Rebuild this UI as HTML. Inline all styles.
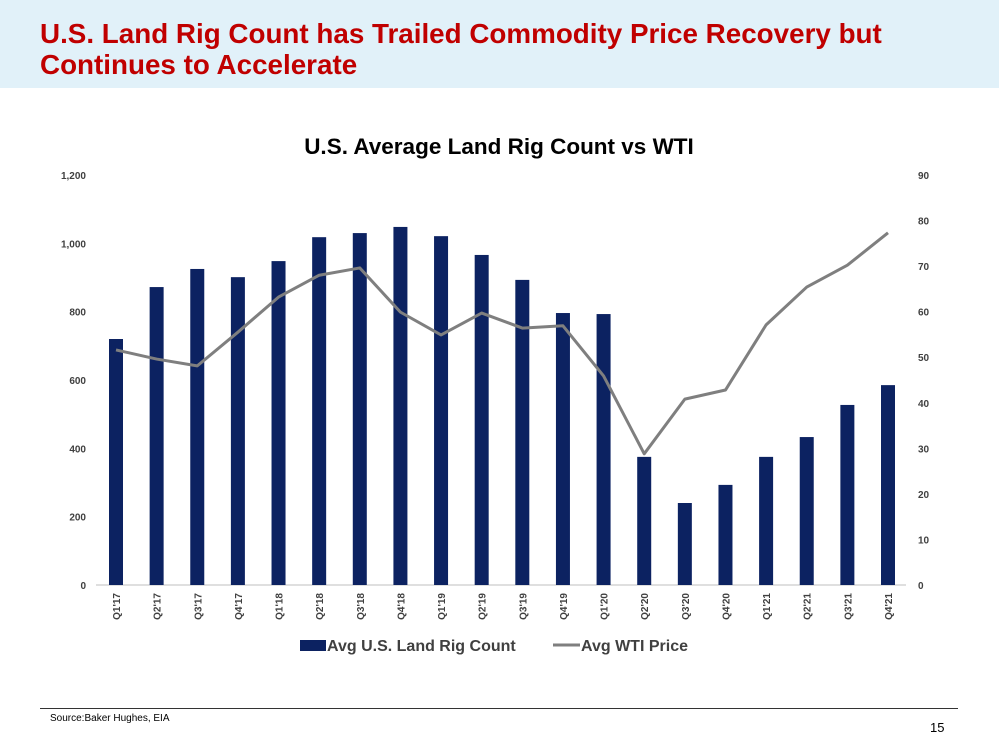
<!DOCTYPE html>
<html><head><meta charset="utf-8"><style>
body{margin:0;width:999px;height:750px;background:#fff;font-family:"Liberation Sans",Arial,sans-serif;position:relative;overflow:hidden}
.hdr{position:absolute;left:0;top:0;width:999px;height:88px;background:#e1f1f9}
.ttl{position:absolute;left:40px;top:18px;font-size:27.8px;font-weight:bold;color:#c00000;line-height:31px}
.src{position:absolute;left:50px;top:713px;font-size:10px;color:#000}
.line{position:absolute;left:40px;top:708px;width:918px;height:1px;background:#333}
.pg{position:absolute;left:930px;top:720px;font-size:13px}
</style></head><body>
<div class="hdr"></div>
<div class="ttl">U.S. Land Rig Count has Trailed Commodity Price Recovery but<br>Continues to Accelerate</div>
<svg id="chart" width="999" height="750" style="position:absolute;left:0;top:0"></svg>
<div class="line"></div>
<div class="src">Source:Baker Hughes, EIA</div>
<div class="pg">15</div>
<script>
const categories=["Q1'17","Q2'17","Q3'17","Q4'17","Q1'18","Q2'18","Q3'18","Q4'18","Q1'19","Q2'19","Q3'19","Q4'19","Q1'20","Q2'20","Q3'20","Q4'20","Q1'21","Q2'21","Q3'21","Q4'21"];
const rigCount=[720,872,925,901,948,1018,1030,1048,1021,966,893,796,793,375,240,293,375,433,527,585];
const wtiPrice=[51.6,49.6,48.1,55.5,63.2,68,69.6,59.9,54.9,59.7,56.4,56.9,45.9,28.8,40.8,42.8,57.1,65.4,70.2,77.3];
const leftTicks=[0,200,400,600,800,1000,1200];
const leftTickLabels=["0","200","400","600","800","1,000","1,200"];
const rightTicks=[0,10,20,30,40,50,60,70,80,90];
const svg=document.getElementById('chart');const NS='http://www.w3.org/2000/svg';
function mk(t,a,txt){const e=document.createElementNS(NS,t);for(const k in a)e.setAttribute(k,a[k]);if(txt!=null)e.textContent=txt;svg.appendChild(e);return e;}
const y0=585,y1=175;
const yL=v=>y0-(v/1200)*(y0-y1);
const yR=v=>y0-(v/90)*(y0-y1);
const xC=i=>116+i*(888-116)/(categories.length-1);
let t=mk('text',{x:499,y:154,'text-anchor':'middle','font-size':22.5,'font-weight':'bold',fill:'#000'},'U.S. Average Land Rig Count vs WTI');


let ax=mk('line',{x1:96,x2:906,y1:y0,y2:y0,stroke:'#bfbfbf','stroke-width':1});


leftTicks.forEach((v,i)=>{const e=mk('text',{x:86,y:yL(v)+4,'text-anchor':'end','font-size':10,'font-weight':'bold',fill:'#404040'},leftTickLabels[i]);

});
rightTicks.forEach(v=>{const e=mk('text',{x:918,y:yR(v)+4,'font-size':10,'font-weight':'bold',fill:'#404040'},String(v));

});
categories.forEach((c,i)=>{const b=mk('rect',{x:xC(i)-7,y:yL(rigCount[i]),width:14,height:y0-yL(rigCount[i]),fill:'#0c2261'});


const l=mk('text',{x:0,y:0,'text-anchor':'end','font-size':10,'font-weight':'bold',fill:'#404040',transform:`translate(${xC(i)+4},${y0+8}) rotate(-90)`},c);

});
const pts=wtiPrice.map((v,i)=>xC(i)+','+yR(v)).join(' ');
const pl=mk('polyline',{points:pts,fill:'none',stroke:'#7f7f7f','stroke-width':3,'stroke-linejoin':'round'});


const lb=mk('rect',{x:300,y:640,width:26,height:11,fill:'#0c2261'});


const lt=mk('text',{x:327,y:651,'font-size':16,'font-weight':'bold',fill:'#404040'},'Avg U.S. Land Rig Count');


const ll=mk('line',{x1:553,x2:580,y1:645,y2:645,stroke:'#7f7f7f','stroke-width':3});


const lt2=mk('text',{x:581,y:651,'font-size':16,'font-weight':'bold',fill:'#404040'},'Avg WTI Price');


</script>
</body></html>
